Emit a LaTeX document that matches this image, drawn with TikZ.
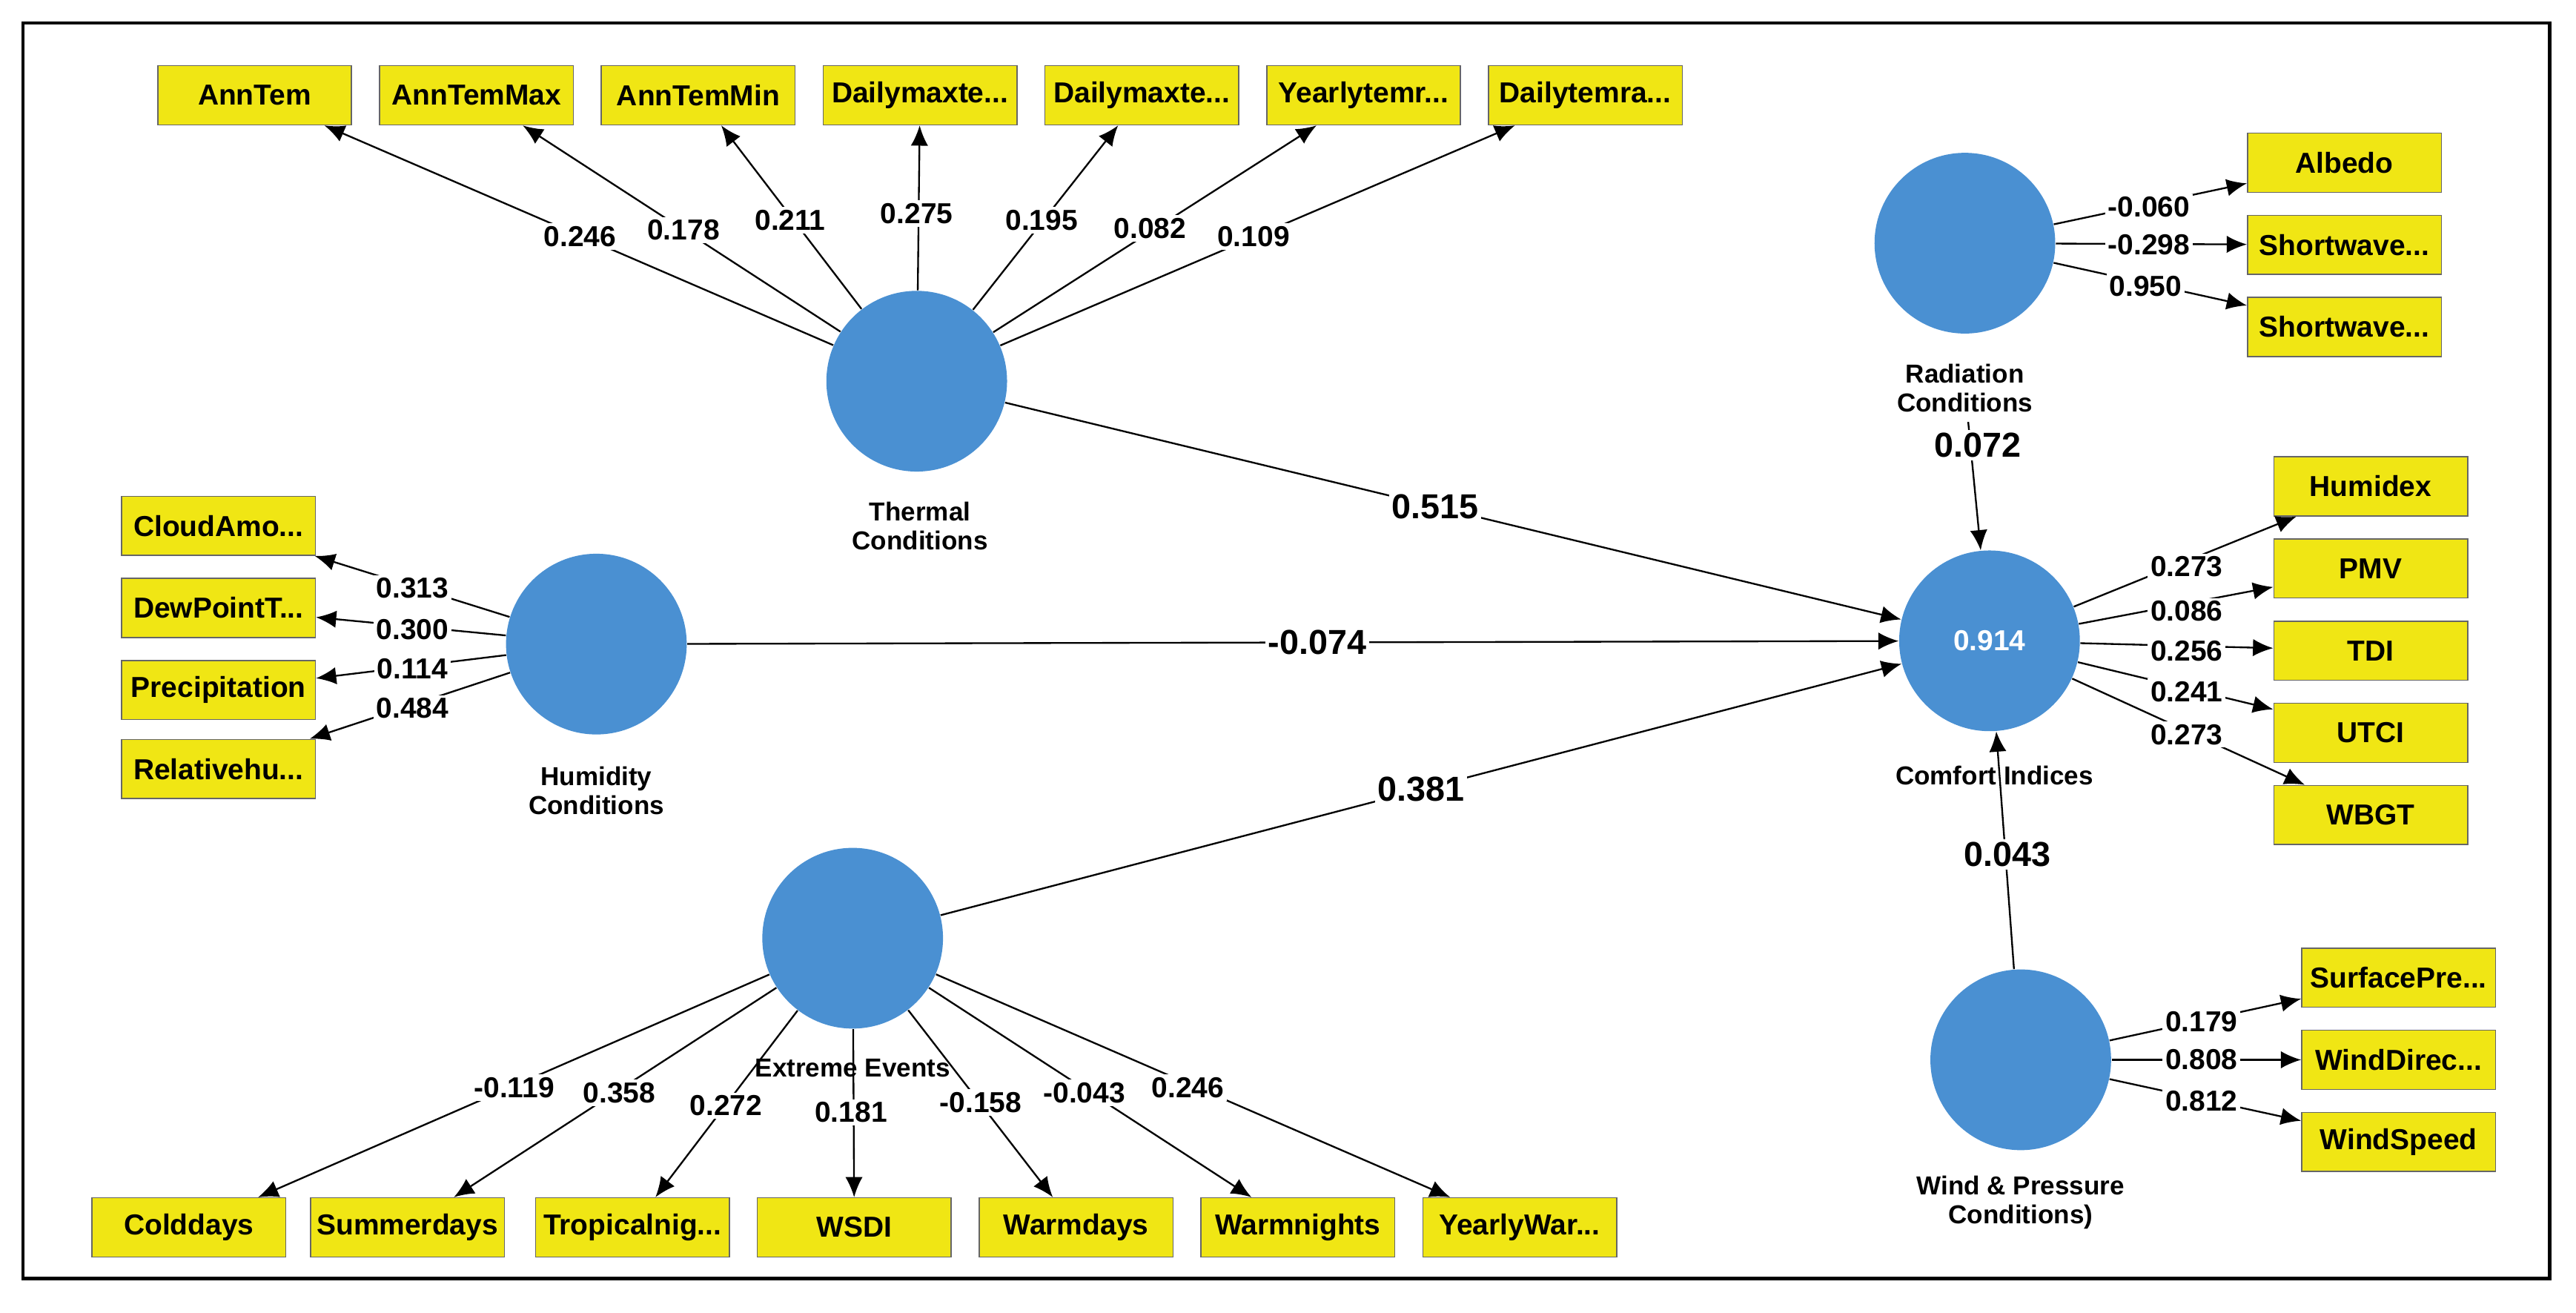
\documentclass[tikz,border=0pt]{standalone}
\usepackage{fontspec}
\setmainfont{Liberation Sans}
\usetikzlibrary{arrows.meta}
\definecolor{lvc}{RGB}{74,144,210}
\definecolor{boxc}{RGB}{240,230,20}
\newcommand\mydots{.{}.{}.}
\begin{document}
\begin{tikzpicture}[x=0.02cm,y=-0.02cm,
 box/.style={draw=black!60,fill=boxc,minimum width=2.36cm,minimum height=0.72cm,inner sep=1pt,font=\bfseries\fontsize{10}{11}\selectfont},
 lv/.style={circle,fill=lvc,minimum size=2.2cm,inner sep=0pt},
 arr/.style={-{Latex[length=7pt,width=6pt]},line width=0.6pt},
 lab/.style={fill=white,inner sep=1pt,font=\bfseries\fontsize{10}{11}\selectfont},
 blab/.style={fill=white,inner sep=1pt,font=\bfseries\fontsize{12}{13}\selectfont},
 lvcap/.style={align=center,font=\bfseries\fontsize{9}{10}\selectfont}]
\useasboundingbox (0,0) rectangle (1568,799);
\draw[line width=1.2pt] (14,14) rectangle (1552,778);
% latent variables
\node[lv] (T) at (558,232) {};
\node[lv] (H) at (363,392) {};
\node[lv] (E) at (519,571) {};
\node[lv] (C) at (1211,390) {\color{white}\bfseries 0.914};
\node[lv] (R) at (1196,148) {};
\node[lv] (W) at (1230,645) {};
\node[lvcap] (Tc) at (560,320) {Thermal\\Conditions};
\node[lvcap] (Hc) at (363,481) {Humidity\\Conditions};
\node[lvcap] (Cc) at (1214,472) {Comfort Indices};
\node[lvcap] (Rc) at (1196,236) {Radiation\\Conditions};
\node[lvcap] (Wc) at (1230,732) {Wind \& Pressure\\Conditions)};
% top boxes
\foreach \n/\x/\t/\v/\lx/\ly in {t1/155/AnnTem/0.246/353/144, t2/290/AnnTemMax/0.178/416/140, t3/425/AnnTemMin/0.211/481/134, t4/560/Dailymaxte\mydots/0.275/558/130, t5/695/Dailymaxte\mydots/0.195/634/134, t6/830/Yearlytemr\mydots/0.082/700/139, t7/965/Dailytemra\mydots/0.109/763/144}{
 \node[box] (\n) at (\x,58) {\t};
 \draw[arr] (T) -- (\n);
 \node[lab] (l\n) at (\lx,\ly) {\v};}
% left boxes
\foreach \n/\y/\t/\v/\ly in {h1/320/CloudAmo\mydots/0.313/358, h2/370/DewPointT\mydots/0.300/383, h3/420/Precipitation/0.114/407, h4/468/Relativehu\mydots/0.484/431}{
 \node[box] (\n) at (133,\y) {\t};
 \draw[arr] (H) -- (\n);
 \node[lab] (l\n) at (251,\ly) {\v};}
% bottom boxes
\foreach \n/\x/\t/\v/\lx/\ly in {e1/115/Colddays/-0.119/313/662, e2/248/Summerdays/0.358/377/665, e3/385/Tropicalnig\mydots/0.272/442/673, e4/520/WSDI/0.181/518/677, e5/655/Warmdays/-0.158/597/671, e6/790/Warmnights/-0.043/660/665, e7/925/YearlyWar\mydots/0.246/723/662}{
 \node[box] (\n) at (\x,747) {\t};
 \draw[arr] (E) -- (\n);
 \node[lab] (l\n) at (\lx,\ly) {\v};}
\node[lvcap] (Ec) at (519,650) {Extreme Events};
% radiation boxes
\foreach \n/\y/\t/\v/\lx/\ly in {r1/99/Albedo/-0.060/1308/126, r2/149/Shortwave\mydots/-0.298/1308/149, r3/199/Shortwave\mydots/0.950/1306/174}{
 \node[box] (\n) at (1427,\y) {\t};
 \draw[arr] (R) -- (\n);
 \node[lab] (l\n) at (\lx,\ly) {\v};}
% comfort boxes
\foreach \n/\y/\t/\v/\ly in {c1/296/Humidex/0.273/345, c2/346/PMV/0.086/372, c3/396/TDI/0.256/396, c4/446/UTCI/0.241/421, c5/496/WBGT/0.273/447}{
 \node[box] (\n) at (1443,\y) {\t};
 \draw[arr] (C) -- (\n);
 \node[lab] (l\n) at (1331,\ly) {\v};}
% wind boxes
\foreach \n/\y/\t/\v/\ly in {w1/595/SurfacePre\mydots/0.179/622, w2/645/WindDirec\mydots/0.808/645, w3/695/WindSpeed/0.812/670}{
 \node[box] (\n) at (1460,\y) {\t};
 \draw[arr] (W) -- (\n);
 \node[lab] (l\n) at (1340,\ly) {\v};}
% structural paths
\draw[arr] (T) -- node[blab,pos=0.48] (p1) {0.515} (C);
\draw[arr] (H) -- node[blab,pos=0.52] (p2) {-0.074} (C);
\draw[arr] (E) -- node[blab,pos=0.5] (p3) {0.381} (C);
\draw[arr] (Rc) -- (C);
\node[blab] (p4) at (1204,271) {0.072};
\draw[arr] (W) -- (C);
\node[blab] (p5) at (1222,520) {0.043};
\end{tikzpicture}
\end{document}
